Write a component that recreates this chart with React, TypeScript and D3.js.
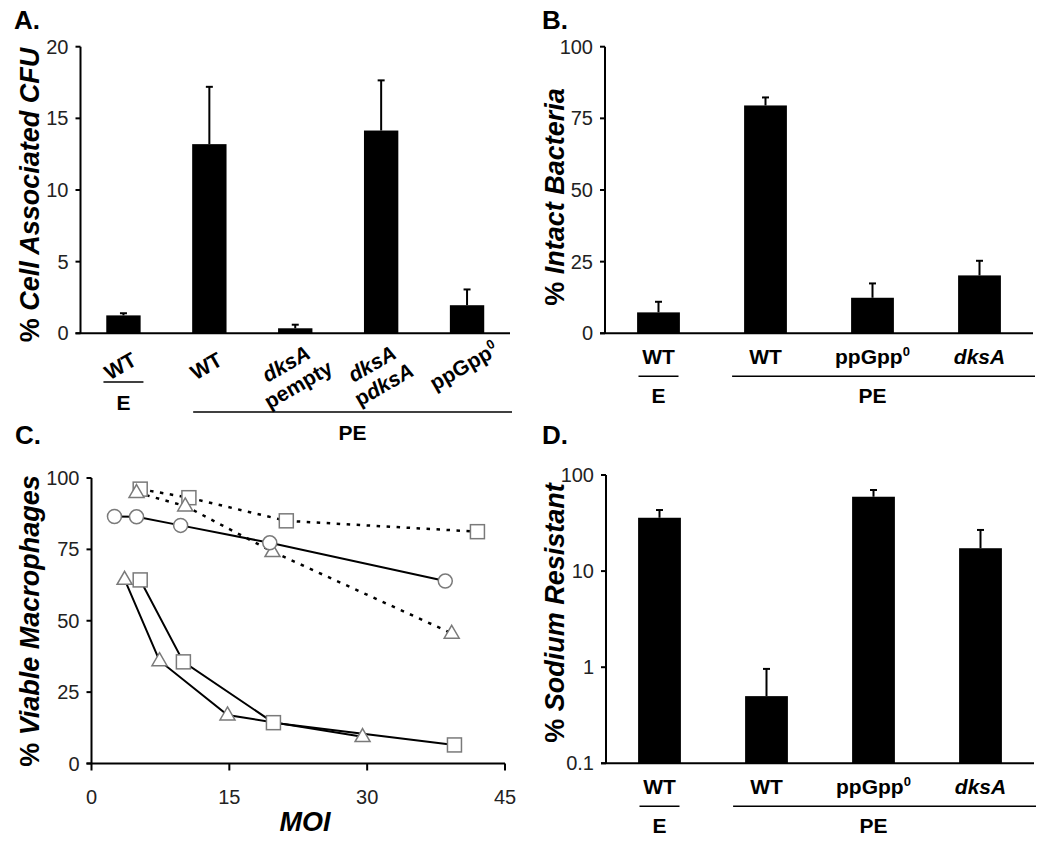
import React, { useEffect, useRef } from "react";
import * as d3 from "d3";

const FONT = "'Liberation Sans', Arial, Helvetica, sans-serif";

// ---------- Panel A ----------
const labelsA: string[][] = [["WT"], ["WT"], ["_dksA_", "pempty"], ["_dksA_", "p_dksA_"], ["ppGpp^0"]];
const valuesA = [1.25, 13.2, 0.35, 14.15, 1.96];
const errorsA = [0.15, 4.0, 0.25, 3.5, 1.1];
const ticksA = [0, 5, 10, 15, 20];

// ---------- Panels B & D ----------
const labelsBD = ["WT", "WT", "ppGpp^0", "_dksA_"];
const valuesB = [7.3, 79.5, 12.4, 20.2];
const errorsB = [3.7, 2.8, 5.0, 5.1];
const ticksB = [0, 25, 50, 75, 100];

const valuesD = [35.9, 0.5, 59.4, 17.3];
const errorsD = [7.3, 0.46, 10.4, 9.5];
const ticksD = [0.1, 1, 10, 100];

// ---------- Panel C ----------
const circleX = [2.5, 4.9, 9.7, 19.4, 38.5];
const circleY = [86.5, 86.4, 83.4, 77.3, 63.9];
const sqDotX = [5.3, 10.6, 21.2, 42.0];
const sqDotY = [96.1, 93.1, 85.0, 81.2];
const triDotX = [4.9, 10.2, 19.7, 39.2];
const triDotY = [94.9, 90.2, 74.2, 45.6];
const triSolX = [3.6, 7.4, 14.8, 29.5];
const triSolY = [64.5, 36.0, 17.0, 9.4];
const sqSolX = [5.3, 10.0, 19.8, 39.5];
const sqSolY = [64.3, 35.6, 14.3, 6.5];
const ticksCx = [0, 15, 30, 45];
const ticksCy = [0, 25, 50, 75, 100];

function parts(s: string) {
  return s
    .split(/(_[^_]+_|\^\S+)/)
    .filter((p) => p.length)
    .map((p) =>
      p.startsWith("_")
        ? { t: p.slice(1, -1), kind: "it" }
        : p.startsWith("^")
        ? { t: p.slice(1), kind: "sup" }
        : { t: p, kind: "n" }
    );
}

function rich(s: string, fs: number) {
  return parts(s).map((p, i) => {
    if (p.kind === "it") return <tspan key={i} fontStyle="italic">{p.t}</tspan>;
    if (p.kind === "sup")
      return (
        <tspan key={i} fontSize={fs * 0.62} dy={-fs * 0.4}>
          {p.t}
        </tspan>
      );
    return <tspan key={i}>{p.t}</tspan>;
  });
}

function YLabel({ x, y, plain, ital }: { x: number; y: number; plain: string; ital: string }) {
  return (
    <text
      transform={`translate(${x},${y}) rotate(-90)`}
      textAnchor="middle"
      fontFamily={FONT}
      fontWeight="bold"
      fontSize={27}
    >
      <tspan>{plain}</tspan>
      <tspan fontStyle="italic">{ital}</tspan>
    </text>
  );
}

function BarPanel({
  x0, x1, axisY, top, y, ticks, values, errors, fmt,
}: {
  x0: number; x1: number; axisY: number; top: number; y: (v: number) => number;
  ticks: number[]; values: number[]; errors: number[]; fmt: (v: number) => string;
}) {
  const xb = d3
    .scaleBand<number>()
    .domain(values.map((_, i) => i))
    .range([x0, x1])
    .paddingInner(0.6)
    .paddingOuter(0.3);
  const bw = xb.bandwidth();
  return (
    <g>
      {values.map((v, i) => {
        const bx = xb(i)!;
        const cx = bx + bw / 2;
        const yt = y(v);
        const ye = y(v + errors[i]);
        return (
          <g key={i}>
            <line x1={cx} x2={cx} y1={yt} y2={ye} stroke="#000" strokeWidth={2} />
            <line x1={cx - 3.5} x2={cx + 3.5} y1={ye} y2={ye} stroke="#000" strokeWidth={2} />
            <rect x={bx} y={yt} width={bw} height={axisY - yt} fill="#000" />
          </g>
        );
      })}
      <line x1={x0} x2={x0} y1={top} y2={axisY} stroke="#000" strokeWidth={2} />
      <line x1={x0 - 5} x2={x1} y1={axisY} y2={axisY} stroke="#000" strokeWidth={2} />
      {ticks.map((t) => (
        <g key={t}>
          <line x1={x0 - 5} x2={x0} y1={y(t)} y2={y(t)} stroke="#000" strokeWidth={2} />
          <text
            x={x0 - 12}
            y={y(t)}
            dy="0.35em"
            textAnchor="end"
            fontFamily={FONT}
            fontSize={20}
            fill="#222"
          >
            {fmt(t)}
          </text>
        </g>
      ))}
    </g>
  );
}

function GroupLabelsBD({ x0, x1, axisY }: { x0: number; x1: number; axisY: number }) {
  const xb = d3
    .scaleBand<number>()
    .domain(labelsBD.map((_, i) => i))
    .range([x0, x1])
    .paddingInner(0.6)
    .paddingOuter(0.3);
  const c = (i: number) => xb(i)! + xb.bandwidth() / 2;
  const fs = 21;
  return (
    <g fontFamily={FONT} fontWeight="bold" fontSize={fs}>
      {labelsBD.map((l, i) => (
        <text key={i} x={c(i)} y={axisY + 31} textAnchor="middle">
          {rich(l, fs)}
        </text>
      ))}
      <line x1={c(0) - 20} x2={c(0) + 20} y1={axisY + 43} y2={axisY + 43} stroke="#000" strokeWidth={1.5} />
      <line x1={xb(1)! - 12} x2={x1 + 2} y1={axisY + 43} y2={axisY + 43} stroke="#000" strokeWidth={1.5} />
      <text x={c(0)} y={axisY + 70} textAnchor="middle">E</text>
      <text x={(c(1) + c(3)) / 2} y={axisY + 70} textAnchor="middle">PE</text>
    </g>
  );
}

function Marker({ type, x, y }: { type: string; x: number; y: number }) {
  const st = { fill: "#fff", stroke: "#7a7a7a", strokeWidth: 1.5 };
  if (type === "circle") return <circle cx={x} cy={y} r={7} {...st} />;
  if (type === "square") return <rect x={x - 7} y={y - 7} width={14} height={14} {...st} />;
  const s = 15;
  const h = (s * Math.sqrt(3)) / 2;
  return <path d={`M${x},${y - h * 0.62}L${x + s / 2},${y + h * 0.38}L${x - s / 2},${y + h * 0.38}Z`} {...st} />;
}

export default function App() {
  const rotRef = useRef<SVGGElement>(null);

  // Panel A
  const yA = d3.scaleLinear().domain([0, 20]).range([333.3, 46.7]);
  const xA0 = 80.5, xA1 = 510, axA = 333.3;
  const xbA = d3
    .scaleBand<number>()
    .domain(valuesA.map((_, i) => i))
    .range([xA0, xA1])
    .paddingInner(0.6)
    .paddingOuter(0.3);
  const cA = (i: number) => xbA(i)! + xbA.bandwidth() / 2;

  // Panel B
  const yB = d3.scaleLinear().domain([0, 100]).range([333.3, 46.7]);
  // Panel D
  const yD = d3.scaleLog().domain([0.1, 100]).range([763.3, 475]);
  // Panel C
  const xC = d3.scaleLinear().domain([0, 45]).range([91.5, 505]);
  const yC = d3.scaleLinear().domain([0, 100]).range([763.5, 478]);
  const line = d3
    .line<[number, number]>()
    .x((d) => xC(d[0]))
    .y((d) => yC(d[1]));
  const zip = (a: number[], b: number[]) => a.map((v, i) => [v, b[i]] as [number, number]);

  const series = [
    { xs: sqDotX, ys: sqDotY, dash: true, m: "square" },
    { xs: triDotX, ys: triDotY, dash: true, m: "triangle" },
    { xs: circleX, ys: circleY, dash: false, m: "circle" },
    { xs: triSolX, ys: triSolY, dash: false, m: "triangle" },
    { xs: sqSolX, ys: sqSolY, dash: false, m: "square" },
  ];

  const fsL = 21;

  // rotated category labels of panel A, drawn with d3 after mount
  useEffect(() => {
    if (!rotRef.current) return;
    const items: { cx: number; cy: number; off: number; txt: string }[] = [];
    labelsA.forEach((lines, i) => {
      const n = lines.length;
      const cx = cA(i) - 3;
      const cy = axA + (n === 1 ? 33 : 41);
      lines.forEach((l, j) => items.push({ cx, cy, off: (j - (n - 1) / 2) * 24 + 7, txt: l }));
    });
    const g = d3.select(rotRef.current);
    g.selectAll("*").remove();
    const t = g
      .selectAll("text")
      .data(items)
      .join("text")
      .attr("transform", (d) => `translate(${d.cx.toFixed(2)},${d.cy.toFixed(2)}) rotate(-30)`)
      .attr("x", 0)
      .attr("y", (d) => d.off)
      .attr("text-anchor", "middle")
      .attr("font-family", FONT)
      .attr("font-weight", "bold")
      .attr("font-size", fsL);
    t.each(function (d) {
      const el = d3.select(this);
      parts(d.txt).forEach((p) => {
        const ts = el.append("tspan").text(p.t);
        if (p.kind === "it") ts.attr("font-style", "italic");
        if (p.kind === "sup") ts.attr("font-size", fsL * 0.62).attr("dy", -fsL * 0.4);
      });
    });
  }, []);

  return (
    <svg
      width={1050}
      height={843}
      style={{ position: "absolute", left: 0, top: 0, background: "#fff" }}
    >
      <rect x={0} y={0} width={1050} height={843} fill="#fff" />
      {/* Panel letters */}
      <g fontFamily={FONT} fontWeight="bold" fontSize={26}>
        <text x={14} y={29}>A.</text>
        <text x={542} y={29}>B.</text>
        <text x={15} y={444}>C.</text>
        <text x={542} y={444}>D.</text>
      </g>

      {/* ===== Panel A ===== */}
      <BarPanel
        x0={xA0} x1={xA1} axisY={axA} top={46.7} y={yA} ticks={ticksA}
        values={valuesA} errors={errorsA} fmt={(v) => String(v)}
      />
      <YLabel x={39} y={195} plain="% " ital="Cell Associated CFU" />
      <g ref={rotRef} />
      <g fontFamily={FONT} fontWeight="bold" fontSize={fsL}>
        <line x1={cA(0) - 20} x2={cA(0) + 20} y1={382} y2={382} stroke="#000" strokeWidth={1.5} />
        <text x={cA(0)} y={410} textAnchor="middle">E</text>
        <line x1={xbA(1)! + 1} x2={512} y1={412} y2={412} stroke="#000" strokeWidth={1.5} />
        <text x={(xbA(1)! + 1 + 512) / 2} y={440} textAnchor="middle">PE</text>
      </g>

      {/* ===== Panel B ===== */}
      <BarPanel
        x0={605} x1={1033} axisY={333.3} top={46.7} y={yB} ticks={ticksB}
        values={valuesB} errors={errorsB} fmt={(v) => String(v)}
      />
      <YLabel x={564} y={197} plain="% " ital="Intact Bacteria" />
      <GroupLabelsBD x0={605} x1={1033} axisY={333.3} />

      {/* ===== Panel C ===== */}
      <g>
        {series.map((s, i) => (
          <path
            key={"l" + i}
            d={line(zip(s.xs, s.ys)) || ""}
            fill="none"
            stroke="#000"
            strokeWidth={s.dash ? 2.5 : 2}
            strokeDasharray={s.dash ? "3.5 6.5" : undefined}
          />
        ))}
        <line x1={xC(0)} x2={xC(0)} y1={yC(100)} y2={yC(0)} stroke="#000" strokeWidth={2} />
        <line x1={xC(0) - 5} x2={xC(45)} y1={yC(0)} y2={yC(0)} stroke="#000" strokeWidth={2} />
        {ticksCy.map((t) => (
          <g key={"cy" + t}>
            <line x1={xC(0) - 5} x2={xC(0)} y1={yC(t)} y2={yC(t)} stroke="#000" strokeWidth={2} />
            <text x={xC(0) - 12} y={yC(t)} dy="0.35em" textAnchor="end" fontFamily={FONT} fontSize={20} fill="#222">
              {t}
            </text>
          </g>
        ))}
        {ticksCx.map((t) => (
          <g key={"cx" + t}>
            <line x1={xC(t)} x2={xC(t)} y1={yC(0)} y2={yC(0) + 7} stroke="#000" strokeWidth={2} />
            <text x={xC(t)} y={797} dy="0.35em" textAnchor="middle" fontFamily={FONT} fontSize={20} fill="#222">
              {t}
            </text>
          </g>
        ))}
        {series.map((s, i) =>
          s.xs.map((x, j) => <Marker key={`m${i}-${j}`} type={s.m} x={xC(x)} y={yC(s.ys[j])} />)
        )}
        <text x={305} y={831} textAnchor="middle" fontFamily={FONT} fontWeight="bold" fontStyle="italic" fontSize={27}>
          MOI
        </text>
        <YLabel x={39} y={621} plain="% " ital="Viable Macrophages" />
      </g>

      {/* ===== Panel D ===== */}
      <BarPanel
        x0={606} x1={1034} axisY={763.3} top={475} y={yD} ticks={ticksD}
        values={valuesD} errors={errorsD} fmt={(v) => String(v)}
      />
      <YLabel x={564} y={613} plain="% " ital="Sodium Resistant" />
      <GroupLabelsBD x0={606} x1={1034} axisY={763.3} />
    </svg>
  );
}
